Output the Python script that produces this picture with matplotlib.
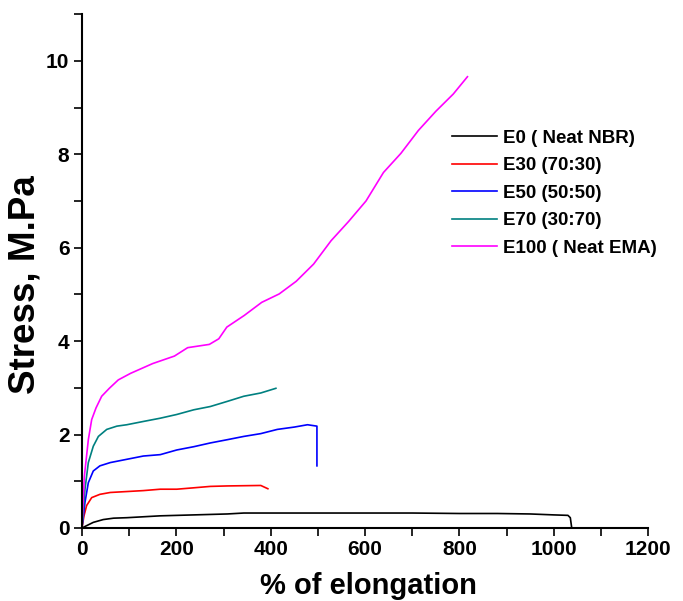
import matplotlib
matplotlib.use("Agg")
import matplotlib.pyplot as plt
from matplotlib import font_manager
from matplotlib.ticker import MultipleLocator

# readings from the reference (elongation %, stress MPa)
e0_x = [0, 10, 24, 45, 67, 95, 166, 237, 308, 343, 450, 600, 700, 800, 880, 950, 1000, 1030, 1035, 1038]
e0_y = [0, 0.05, 0.12, 0.18, 0.21, 0.22, 0.26, 0.28, 0.30, 0.32, 0.32, 0.32, 0.32, 0.31, 0.31, 0.30, 0.28, 0.27, 0.22, 0.0]

e30_x = [0, 4.3, 9.9, 20.6, 38, 60, 95, 130, 166, 201, 237, 272, 308, 379, 394]
e30_y = [0, 0.26, 0.48, 0.65, 0.72, 0.76, 0.78, 0.80, 0.83, 0.83, 0.86, 0.89, 0.90, 0.91, 0.84]

e50_x = [0, 6.4, 13.5, 24, 38, 60, 95, 130, 166, 201, 237, 272, 308, 343, 379, 414, 450, 478, 498, 498]
e50_y = [0, 0.55, 0.97, 1.22, 1.33, 1.40, 1.47, 1.54, 1.57, 1.67, 1.74, 1.82, 1.89, 1.96, 2.02, 2.11, 2.16, 2.21, 2.18, 1.33]

e70_x = [0, 6.4, 13.5, 24, 34.8, 52.5, 74, 95, 130, 166, 201, 237, 272, 308, 343, 379, 411]
e70_y = [0, 0.83, 1.40, 1.75, 1.96, 2.11, 2.18, 2.21, 2.28, 2.35, 2.43, 2.53, 2.60, 2.71, 2.82, 2.89, 2.99]

e100_x = [0, 5, 13.5, 20.6, 29.8, 41.8, 58, 77, 103, 150, 196, 224, 270, 290, 307, 344, 381, 418,
          454, 491, 528, 565, 602, 639, 676, 713, 750, 787, 817]
e100_y = [0, 1.1, 1.89, 2.32, 2.57, 2.82, 2.99, 3.17, 3.31, 3.52, 3.68, 3.86, 3.93, 4.05, 4.30, 4.55, 4.83, 5.01,
          5.28, 5.65, 6.15, 6.56, 7.0, 7.61, 8.02, 8.51, 8.92, 9.29, 9.66]

labels = ["E0 ( Neat NBR)", "E30 (70:30)", "E50 (50:50)", "E70 (30:70)", "E100 ( Neat EMA)"]
colors = ["black", "#ff0000", "#0000ff", "#008080", "#ff00ff"]

installed = {f.name for f in font_manager.fontManager.ttflist}
if "Liberation Sans Narrow" in installed:
    narrow = ["Liberation Sans Narrow", "DejaVu Sans"]
    tick_fs, leg_fs = 17, 15.5
else:
    narrow = ["Liberation Sans", "DejaVu Sans"]
    tick_fs, leg_fs = 15, 13.5
wide = ["Liberation Sans", "DejaVu Sans"]

fig = plt.figure(figsize=(6.83, 6.01), dpi=100)
ax = fig.add_axes([0.120, 0.1215, 0.829, 0.855])

series = [(e0_x, e0_y), (e30_x, e30_y), (e50_x, e50_y), (e70_x, e70_y), (e100_x, e100_y)]
for (x, y), lab, c in zip(series, labels, colors):
    ax.plot(x, y, color=c, lw=1.2, label=lab)

ax.set_xlim(0, 1200)
ax.set_ylim(0, 11)
ax.xaxis.set_major_locator(MultipleLocator(200))
ax.xaxis.set_minor_locator(MultipleLocator(100))
ax.set_yticks([0, 2, 4, 6, 8, 10])
ax.yaxis.set_minor_locator(MultipleLocator(1))

for s in ["top", "right"]:
    ax.spines[s].set_visible(False)
for s in ["left", "bottom"]:
    ax.spines[s].set_linewidth(1.5)

ax.tick_params(which="both", direction="out", length=6, width=1.2, pad=3)
for t in ax.get_xticklabels() + ax.get_yticklabels():
    t.set_family(narrow)
    t.set_fontweight("bold")
    t.set_fontsize(tick_fs)

ax.set_xlabel("% of elongation", family=wide, fontweight="bold", fontsize=21)
ax.xaxis.set_label_coords(0.506, -0.085)
ax.set_ylabel("Stress, M.Pa", family=wide, fontweight="bold", fontsize=26.5)
ax.yaxis.set_label_coords(-0.07, 0.473)

leg = fig.legend(loc="upper left", bbox_to_anchor=(0.662, 0.784), frameon=False,
                 prop={"family": narrow, "weight": "bold", "size": leg_fs},
                 handlelength=2.4, handletextpad=0.3, labelspacing=0.55,
                 borderpad=0, borderaxespad=0)

fig.savefig("out.png", dpi=100)
